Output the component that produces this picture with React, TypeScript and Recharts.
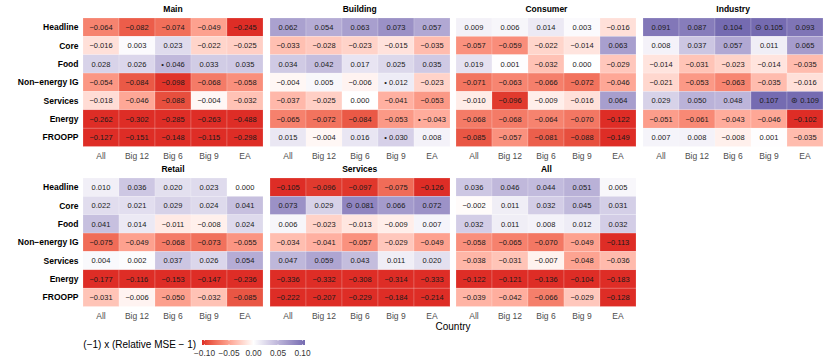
import { ScatterChart, Scatter, XAxis, YAxis } from 'recharts';

const countries = ['All', 'Big 12', 'Big 6', 'Big 9', 'EA'];
const measures = ['Headline', 'Core', 'Food', 'Non\u2212energy IG', 'Services', 'Energy', 'FROOPP'];

const mainValues = [
  [-0.064, -0.082, -0.074, -0.049, -0.245],
  [-0.016, 0.003, 0.023, -0.022, -0.025],
  [0.028, 0.026, 0.046, 0.033, 0.035],
  [-0.054, -0.084, -0.098, -0.068, -0.058],
  [-0.018, -0.046, -0.088, -0.004, -0.032],
  [-0.262, -0.302, -0.285, -0.263, -0.488],
  [-0.127, -0.151, -0.148, -0.115, -0.298],
];
const buildingValues = [
  [0.062, 0.054, 0.063, 0.073, 0.057],
  [-0.033, -0.028, -0.023, -0.015, -0.035],
  [0.034, 0.042, 0.017, 0.025, 0.035],
  [-0.004, 0.005, -0.006, 0.012, -0.023],
  [-0.037, -0.025, 0.0, -0.041, -0.053],
  [-0.065, -0.072, -0.084, -0.053, -0.043],
  [0.015, -0.004, 0.016, 0.03, 0.008],
];
const consumerValues = [
  [0.009, 0.006, 0.014, 0.003, -0.016],
  [-0.057, -0.059, -0.022, -0.014, 0.063],
  [0.019, 0.001, -0.032, 0.0, -0.029],
  [-0.071, -0.063, -0.066, -0.072, -0.046],
  [-0.01, -0.096, -0.009, -0.016, 0.064],
  [-0.068, -0.068, -0.064, -0.07, -0.122],
  [-0.085, -0.057, -0.081, -0.088, -0.149],
];
const industryValues = [
  [0.091, 0.087, 0.104, 0.105, 0.093],
  [0.008, 0.037, 0.057, 0.011, 0.065],
  [-0.014, -0.031, -0.023, -0.014, -0.035],
  [-0.021, -0.053, -0.063, -0.035, -0.016],
  [0.029, 0.05, 0.048, 0.107, 0.109],
  [-0.051, -0.061, -0.043, -0.046, -0.102],
  [0.007, 0.008, -0.008, 0.001, -0.035],
];
const retailValues = [
  [0.01, 0.036, 0.02, 0.023, 0.0],
  [0.022, 0.021, 0.029, 0.024, 0.041],
  [0.041, 0.014, -0.011, -0.008, 0.024],
  [-0.075, -0.049, -0.068, -0.073, -0.055],
  [0.004, 0.002, 0.037, 0.026, 0.054],
  [-0.177, -0.116, -0.153, -0.147, -0.236],
  [-0.031, -0.006, -0.05, -0.032, -0.085],
];
const servicesValues = [
  [-0.105, -0.096, -0.097, -0.075, -0.126],
  [0.073, 0.029, 0.081, 0.066, 0.072],
  [0.006, -0.023, -0.013, -0.009, 0.007],
  [-0.034, -0.041, -0.057, -0.029, -0.049],
  [0.047, 0.059, 0.043, 0.011, 0.02],
  [-0.336, -0.332, -0.308, -0.314, -0.333],
  [-0.222, -0.207, -0.229, -0.184, -0.214],
];
const allValues = [
  [0.036, 0.046, 0.044, 0.051, 0.005],
  [-0.002, 0.011, 0.032, 0.045, 0.031],
  [0.032, 0.011, 0.008, 0.012, 0.032],
  [-0.058, -0.065, -0.07, -0.049, -0.113],
  [-0.038, -0.031, -0.007, -0.048, -0.036],
  [-0.122, -0.121, -0.136, -0.104, -0.183],
  [-0.039, -0.042, -0.066, -0.029, -0.128],
];

// significance markers: [panel, row, col, symbol]
const markers: [string, number, number, string][] = [
  ['Main', 2, 2, '\u2022'],
  ['Building', 3, 3, '\u2022'],
  ['Building', 5, 4, '\u2022'],
  ['Building', 6, 3, '\u2022'],
  ['Industry', 0, 3, '\u2299'],
  ['Industry', 4, 4, '\u229B'],
  ['Services', 1, 2, '\u2299'],
];

const legendTicks = [-0.1, -0.05, 0, 0.05, 0.1];

const FONT = '"Liberation Sans", Arial, Helvetica, sans-serif';
const PANEL_W = 180;
const PANEL_H = 128.5;
const CELL_W = PANEL_W / 5;
const CELL_H = PANEL_H / 7;
const X_AXIS_H = 20;

// ---- Lab colour ramp (like scale_fill_gradient2) ----
const LOW = [222, 45, 38];
const MID = [255, 255, 255];
const HIGH = [117, 107, 177];

const toLab = (rgb: number[]) => {
  const [r, g, b] = rgb.map((c) => {
    const s = c / 255;
    return s <= 0.04045 ? s / 12.92 : Math.pow((s + 0.055) / 1.055, 2.4);
  });
  const X = (0.4124564 * r + 0.3575761 * g + 0.1804375 * b) / 0.95047;
  const Y = 0.2126729 * r + 0.7151522 * g + 0.072175 * b;
  const Z = (0.0193339 * r + 0.119192 * g + 0.9503041 * b) / 1.08883;
  const f = (t: number) => (t > 0.008856 ? Math.cbrt(t) : 7.787 * t + 16 / 116);
  const fx = f(X), fy = f(Y), fz = f(Z);
  return [116 * fy - 16, 500 * (fx - fy), 200 * (fy - fz)];
};

const fromLab = ([L, a, b]: number[]) => {
  const fy = (L + 16) / 116;
  const fx = fy + a / 500;
  const fz = fy - b / 200;
  const inv = (f: number) => (f * f * f > 0.008856 ? f * f * f : (f - 16 / 116) / 7.787);
  const X = inv(fx) * 0.95047, Y = inv(fy), Z = inv(fz) * 1.08883;
  const lin = [
    3.2404542 * X - 1.5371385 * Y - 0.4985314 * Z,
    -0.969266 * X + 1.8760108 * Y + 0.041556 * Z,
    0.0556434 * X - 0.2040259 * Y + 1.0572252 * Z,
  ];
  const out = lin.map((c) => {
    const v = c <= 0.0031308 ? 12.92 * c : 1.055 * Math.pow(c, 1 / 2.4) - 0.055;
    return Math.round(Math.max(0, Math.min(1, v)) * 255);
  });
  return `rgb(${out[0]},${out[1]},${out[2]})`;
};

const fillFor = (v: number) => {
  const t = Math.max(-1, Math.min(1, v / 0.1));
  const a = toLab(MID);
  const b = toLab(t < 0 ? LOW : HIGH);
  const k = Math.abs(t);
  return fromLab(a.map((x, i) => x + (b[i] - x) * k));
};

const fmt = (v: number) => v.toFixed(3).replace('-', '\u2212');

const renderCell = (props: any) => {
  const { cx, cy, payload } = props;
  const label = fmt(payload.v);
  return (
    <g>
      <rect
        x={cx - CELL_W / 2}
        y={cy - CELL_H / 2}
        width={CELL_W}
        height={CELL_H}
        fill={fillFor(payload.v)}
        stroke="#ffffff"
        strokeOpacity={0.35}
        strokeWidth={0.5}
      />
      <text x={cx} y={cy} dy="0.35em" textAnchor="middle" fontSize={7.5} fill="#1a1a1a" fontFamily={FONT}>
        {payload.mark ? `${payload.mark} ${label}` : label}
      </text>
    </g>
  );
};

// plain text tick so long labels never wrap
const MeasureTick = (props: any) => {
  const { x, y, payload } = props;
  return (
    <text x={x} y={y} dy="0.35em" textAnchor="end" fontSize={8.5} fontWeight="bold" fill="#000" fontFamily={FONT}>
      {measures[payload.value]}
    </text>
  );
};

type PanelProps = { title: string; values: number[][]; left: number; top: number; showY: boolean };

const Panel = ({ title, values, left, top, showY }: PanelProps) => {
  const data = values.flatMap((row, r) =>
    row.map((v, c) => {
      const m = markers.find((mk) => mk[0] === title && mk[1] === r && mk[2] === c);
      return { x: c, y: r, v, mark: m ? m[3] : '' };
    })
  );
  const yw = showY ? 83 : 0;
  return (
    <div style={{ position: 'absolute', left: left - yw, top }}>
      <ScatterChart width={PANEL_W + yw} height={PANEL_H + X_AXIS_H} margin={{ top: 0, right: 0, bottom: 0, left: 0 }}>
        <XAxis
          type="number"
          dataKey="x"
          domain={[-0.5, 4.5]}
          ticks={[0, 1, 2, 3, 4]}
          interval={0}
          tickFormatter={(i: number) => countries[i]}
          axisLine={false}
          tickLine={false}
          tickSize={0}
          tickMargin={6}
          height={X_AXIS_H}
          tick={{ fontSize: 8.5, fill: '#4d4d4d', fontFamily: FONT }}
        />
        <YAxis
          type="number"
          dataKey="y"
          domain={[-0.5, 6.5]}
          reversed
          ticks={[0, 1, 2, 3, 4, 5, 6]}
          interval={0}
          axisLine={false}
          tickLine={false}
          tickSize={0}
          tickMargin={4.5}
          width={yw}
          hide={!showY}
          tick={<MeasureTick />}
        />
        <Scatter data={data} shape={renderCell} isAnimationActive={false} />
      </ScatterChart>
    </div>
  );
};

const COL_X = [83, 269.7, 456.4, 643.1];
const ROW_Y = [17.5, 177.8];

const panels = [
  { title: 'Main', values: mainValues, c: 0, r: 0 },
  { title: 'Building', values: buildingValues, c: 1, r: 0 },
  { title: 'Consumer', values: consumerValues, c: 2, r: 0 },
  { title: 'Industry', values: industryValues, c: 3, r: 0 },
  { title: 'Retail', values: retailValues, c: 0, r: 1 },
  { title: 'Services', values: servicesValues, c: 1, r: 1 },
  { title: 'All', values: allValues, c: 2, r: 1 },
];

const BAR_X = 202;
const BAR_W = 103;
const BAR_Y = 340;
const BAR_H = 5;
const barPos = (v: number) => 204.5 + ((v + 0.1) / 0.2) * 98;

export default function App() {
  const stops = Array.from({ length: 21 }, (_, i) => i / 20);
  return (
    <div style={{ position: 'absolute', left: 0, top: 0, width: 830, height: 363, background: '#fff', fontFamily: FONT }}>
      {panels.map((p) => (
        <Panel key={p.title} title={p.title} values={p.values} left={COL_X[p.c]} top={ROW_Y[p.r]} showY={p.c === 0} />
      ))}
      <svg width={830} height={363} style={{ position: 'absolute', left: 0, top: 0, pointerEvents: 'none' }}>
        <defs>
          <linearGradient id="bar" x1="0" x2="1" y1="0" y2="0">
            {stops.map((s) => (
              <stop key={s} offset={s} stopColor={fillFor(-0.1 + 0.2 * s)} />
            ))}
          </linearGradient>
        </defs>
        {panels.map((p) => (
          <text
            key={p.title}
            x={COL_X[p.c] + PANEL_W / 2}
            y={ROW_Y[p.r] - 6}
            textAnchor="middle"
            fontSize={8.5}
            fontWeight="bold"
            fontFamily={FONT}
            fill="#000"
          >
            {p.title}
          </text>
        ))}
        <text x={453} y={329.5} textAnchor="middle" fontSize={10} fontFamily={FONT} fill="#000">
          Country
        </text>
        <text x={83.3} y={347.5} fontSize={10} fontFamily={FONT} fill="#000">
          (−1) x (Relative MSE − 1)
        </text>
        <rect x={BAR_X} y={BAR_Y} width={BAR_W} height={BAR_H} fill="url(#bar)" />
        {legendTicks.map((t) => (
          <g key={t}>
            <line x1={barPos(t)} x2={barPos(t)} y1={BAR_Y} y2={BAR_Y + 1} stroke="#fff" strokeWidth={0.6} />
            <line x1={barPos(t)} x2={barPos(t)} y1={BAR_Y + BAR_H - 1} y2={BAR_Y + BAR_H} stroke="#fff" strokeWidth={0.6} />
            <text x={barPos(t)} y={355.5} textAnchor="middle" fontSize={8.3} fontFamily={FONT} fill="#333">
              {t.toFixed(2).replace('-', '\u2212')}
            </text>
          </g>
        ))}
      </svg>
    </div>
  );
}
